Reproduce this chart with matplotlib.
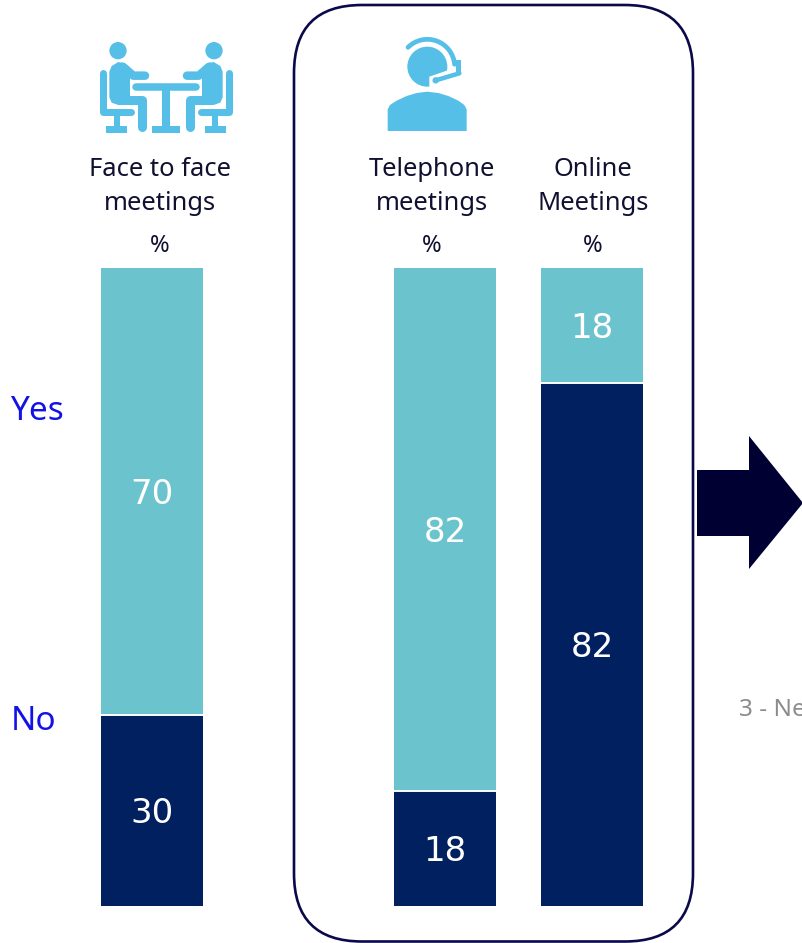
import matplotlib
matplotlib.use("Agg")
import matplotlib.pyplot as plt
from matplotlib.patches import Polygon, Circle, FancyBboxPatch, Rectangle, Arc

W, H = 803, 943
categories = ["Face to face\nmeetings", "Telephone\nmeetings", "Online\nMeetings"]
yes_values = [70, 82, 18]
no_values = [30, 18, 82]
series_names = ["Yes", "No"]
unit = "%"
side_note = "3 - Ne"

TEAL, NAVY, ICON, DARK = "#6BC3CD", "#002060", "#56BFE8", "#000033"
BLUE, GREY = "#1212E6", "#8C8C8C"
TXT = ["Noto Sans", "DejaVu Sans"]
bar_x = [152, 445, 592]
label_x = [160, 432, 593]

fig = plt.figure(figsize=(W / 100, H / 100), dpi=100)

# bars: y axis maps 0..100 on to the plotted column height
ax = fig.add_axes([0, (H - 906) / H, 1, (906 - 268) / H])
ax.set_xlim(0, W)
ax.set_ylim(0, 100)
ax.axis("off")
ax.bar(bar_x, no_values, width=102, color=NAVY, zorder=3)
ax.bar(bar_x, yes_values, width=102, bottom=no_values, color=TEAL, zorder=3)
for x, n, y in zip(bar_x, no_values, yes_values):
    ax.plot([x - 51, x + 51], [n, n], color="white", lw=1.4, zorder=4, solid_capstyle="butt")
    ax.annotate(str(n), (x, n / 2), xytext=(0, -2.2), textcoords="offset points", color="white", fontsize=24.5,
                ha="center", va="center", family="DejaVu Sans", zorder=5)
    ax.annotate(str(y), (x, n + y / 2), xytext=(0, -2.2), textcoords="offset points", color="white", fontsize=24.5,
                ha="center", va="center", family="DejaVu Sans", zorder=5)

# overlay in pixel coordinates for decorations
ov = fig.add_axes([0, 0, 1, 1], zorder=-1)
ov.set_xlim(0, W)
ov.set_ylim(H, 0)
ov.axis("off")

ov.add_patch(FancyBboxPatch((294, 5), 399, 936.5, boxstyle="round,pad=0,rounding_size=68",
                            fc="none", ec="#0A0A4A", lw=1.9))
ov.add_patch(Polygon([(697, 470), (749, 470), (749, 436), (803, 503), (749, 569), (749, 536), (697, 536)],
                     fc=DARK, ec="none"))

for lab, x in zip(categories, label_x):
    l1, l2 = lab.split("\n")
    ov.text(x, 169, l1, fontsize=18.4, ha="center", va="center", color="#101030", family=TXT)
    ov.text(x, 203, l2, fontsize=18.4, ha="center", va="center", color="#101030", family=TXT)
    ov.text(x, 246, unit, fontsize=17, ha="center", va="center", color="#101030", family="Noto Sans")
ov.text(10, 412, series_names[0], fontsize=24, ha="left", va="center", color=BLUE, family=TXT)
ov.text(11, 722, series_names[1], fontsize=24, ha="left", va="center", color=BLUE, family=TXT)
ov.text(739, 710, side_note, fontsize=17.5, ha="left", va="center", color=GREY, family=TXT)


# icon: two people at a table (zoom-crop coordinates, 3x, origin 80,20)
def fx(x):
    return 80 + x / 3


def fy(y):
    return 20 + y / 3


def thick(pts, lw_px):
    ov.plot([fx(p[0]) for p in pts], [fy(p[1]) for p in pts], color=ICON,
            lw=lw_px * 0.72, solid_capstyle="round", solid_joinstyle="round")


def person(m):
    X = (lambda x: x) if not m else (lambda x: 516 - x)
    ov.add_patch(Circle((fx(X(114)), fy(92)), 26 / 3, fc=ICON, ec="none"))
    body = [(88, 155), (95, 138), (115, 126), (135, 130), (150, 142), (150, 228), (172, 228),
            (172, 255), (115, 255), (95, 248), (88, 232)]
    ov.add_patch(Polygon([(fx(X(a)), fy(b)) for a, b in body], fc=ICON, ec="none"))
    thick([(X(128), 140), (X(160), 167), (X(195), 167)], 8.5)
    thick([(X(150), 241), (X(186), 241), (X(186), 322)], 9)
    thick([(X(68), 160), (X(68), 277), (X(152), 277)], 7)
    ov.add_patch(Polygon([(fx(X(a)), fy(b)) for a, b in
                          [(101, 280), (119, 280), (119, 318), (140, 318), (140, 340), (78, 340), (78, 318), (101, 318)]],
                         fc=ICON, ec="none"))


person(False)
person(True)
thick([(168, 202), (347, 202)], 7.5)
ov.add_patch(Polygon([(fx(a), fy(b)) for a, b in
                      [(246, 202), (270, 202), (270, 318), (300, 318), (300, 340), (215, 340), (215, 318), (246, 318)]],
                     fc=ICON, ec="none"))


# icon: headset person (zoom-crop coordinates, 3x, origin 370,20)
def hx(x):
    return 370 + x / 3


def hy(y):
    return 20 + y / 3


shoulders = [(53, 333), (53, 268), (60, 255), (80, 242), (110, 228), (140, 219), (172, 215), (205, 219),
             (235, 228), (265, 242), (283, 255), (290, 268), (290, 333)]
ov.add_patch(Polygon([(hx(a), hy(b)) for a, b in shoulders], fc=ICON, ec="none"))
ov.add_patch(Circle((hx(172), hy(140)), 20, fc=ICON, ec="none"))
ov.add_patch(Polygon([(hx(a), hy(b)) for a, b in [(178, 208), (178, 170), (236, 150), (250, 208)]],
                     fc="white", ec="none", zorder=3))
ov.add_patch(Arc((hx(172), hy(140)), 164 / 3, 164 / 3, theta1=-135, theta2=-5, ec=ICON, lw=3.4, zorder=4,
                 capstyle="round"))
ov.add_patch(Rectangle((hx(258), hy(120)), 15 / 3, 42 / 3, fc=ICON, ec="none", zorder=4))
ov.plot([hx(268), hx(197)], [hy(160), hy(181)], color=ICON, lw=4.5 * 0.72, zorder=5,
        solid_capstyle="round")
ov.add_patch(Circle((hx(197), hy(181)), 3.2, fc=ICON, ec="none", zorder=5))

fig.savefig("out.png", dpi=100, facecolor="white")
